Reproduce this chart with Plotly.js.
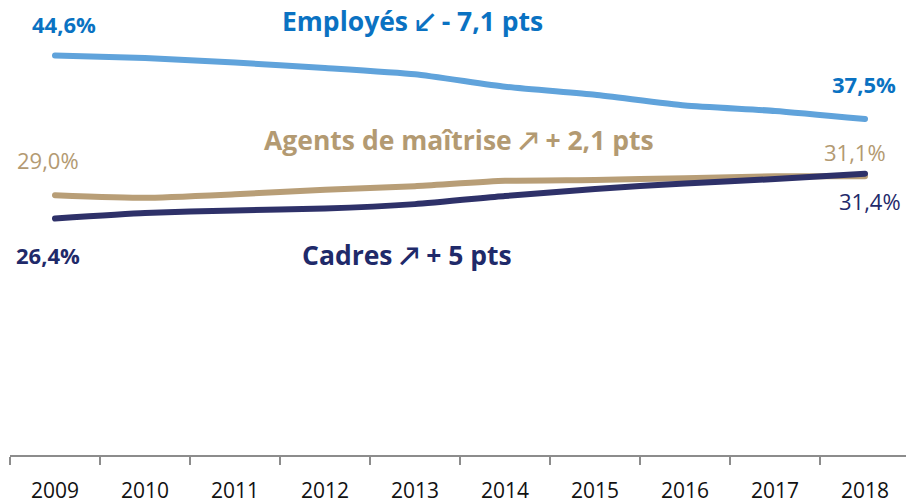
<!DOCTYPE html>
<html>
<head>
<meta charset="utf-8">
<script src="https://cdn.plot.ly/plotly-3.0.1.min.js"></script>
<style>
html,body{margin:0;padding:0;overflow:hidden;background:#fff;}
#chart{width:910px;height:503px;}
.js-line{stroke-linecap:round;stroke-linejoin:round;}
</style>
</head>
<body>
<div id="chart"></div>
<script>
var years = ['2009','2010','2011','2012','2013','2014','2015','2016','2017','2018'];
var employes = [44.6, 44.3, 43.8, 43.2, 42.5, 41.1, 40.2, 39.0, 38.4, 37.5];
var agents   = [29.0, 28.7, 29.1, 29.6, 30.0, 30.6, 30.7, 30.9, 31.1, 31.1];
var cadres   = [26.4, 27.0, 27.3, 27.5, 28.0, 28.9, 29.7, 30.3, 30.8, 31.4];
var seriesNames = ['Employés', 'Agents de maîtrise', 'Cadres'];
var seriesNotes = ['\u2199 - 7,1 pts', '\u2197 + 2,1 pts', '\u2197 + 5 pts'];

var FONT = '"Open Sans", Lato, "Liberation Sans", Arial, sans-serif';
var cBlueLine = '#60A3DB', cBlueText = '#0A72C2';
var cTan = '#B89E77', cTanText = '#B39A72';
var cNavy = '#2E3169', cNavyText = '#1F2A6A';

function fmt(v){ return v.toFixed(1).replace('.', ',') + '%'; }

var traces = [
  {x: years, y: employes, name: seriesNames[0], mode: 'lines', line: {color: cBlueLine, width: 6, shape: 'spline', smoothing: 0.5}},
  {x: years, y: agents, name: seriesNames[1], mode: 'lines', line: {color: cTan, width: 6, shape: 'spline', smoothing: 0.5}},
  {x: years, y: cadres, name: seriesNames[2], mode: 'lines', line: {color: cNavy, width: 6, shape: 'spline', smoothing: 0.5}}
];

var last = years.length - 1;
function valAnn(xi, y, txt, color, bold, xs, ys){
  return {x: xi, y: y, xref: 'x', yref: 'y', xanchor: 'center', yanchor: 'middle',
    text: bold ? '<b>' + txt + '</b>' : txt, showarrow: false,
    xshift: xs, yshift: ys, font: {family: FONT, size: 22, color: color}};
}
function titleAnn(px, py, txt, color){
  return {x: px, y: py, xref: 'paper', yref: 'paper', xanchor: 'center', yanchor: 'middle',
    text: '<b>' + txt + '</b>', showarrow: false,
    font: {family: FONT, size: 26.5, color: color}};
}

var annotations = [
  valAnn(0, employes[0], fmt(employes[0]), cBlueText, true, 9, 31),
  valAnn(last, employes[last], fmt(employes[last]), cBlueText, true, -1, 35),
  valAnn(0, agents[0], fmt(agents[0]), cTanText, false, -7, 35),
  valAnn(last, agents[last], fmt(agents[last]), cTanText, false, -10, 24),
  valAnn(last, cadres[last], fmt(cadres[last]), cNavyText, false, 5, -27),
  valAnn(0, cadres[0], fmt(cadres[0]), cNavyText, true, -7, -37),
  titleAnn(0.4467, 0.9688, seriesNames[0] + ' ' + seriesNotes[0], cBlueText),
  titleAnn(0.4989, 0.7031, seriesNames[1] + ' ' + seriesNotes[1], cTanText),
  titleAnn(0.4411, 0.4464, seriesNames[2] + ' ' + seriesNotes[2], cNavyText)
];

var layout = {
  width: 910, height: 503,
  margin: {l: 10, r: 0, t: 7, b: 48},
  paper_bgcolor: '#ffffff', plot_bgcolor: '#ffffff',
  showlegend: false,
  xaxis: {type: 'category', range: [-0.5, last + 0.5], showgrid: false, zeroline: false, showline: true, linecolor: '#8C8C8C', linewidth: 1.5,
    ticks: 'outside', tickson: 'boundaries', ticklen: 8, tickcolor: '#8C8C8C', tickwidth: 1.5, ticklabelstandoff: 16,
    tickfont: {family: FONT, size: 21, color: '#111111'}, fixedrange: true},
  yaxis: {range: [0, 50], visible: false, showgrid: false, zeroline: false, fixedrange: true},
  annotations: annotations
};

Plotly.newPlot('chart', traces, layout, {staticPlot: true, displayModeBar: false});
</script>
</body>
</html>
